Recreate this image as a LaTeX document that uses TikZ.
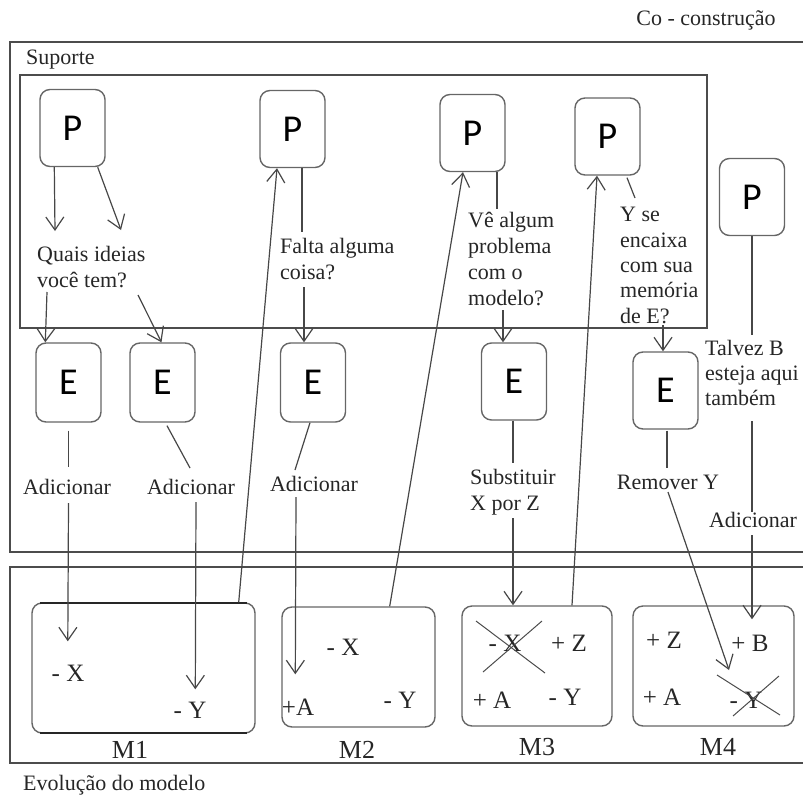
\documentclass[tikz,border=0pt]{standalone}
\usepackage{fontspec}
\setmainfont{Liberation Serif}
\newfontfamily\boxfont{Carlito}
\usetikzlibrary{arrows.meta,calc}

\begin{document}
\begin{tikzpicture}[x=1pt,y=-1pt,
  conn/.style={draw=black!72, line width=1.2pt},
  arr/.style={conn, -{Straight Barb[length=13pt,width=18pt,line width=1.2pt]}},
  cross/.style={draw=black!70, line width=1pt},
  frame/.style={draw=black!70, line width=1.6pt},
  agent/.style={draw=black!60, line width=1.4pt, rounded corners=10pt,
    minimum width=65pt, minimum height=77pt, inner sep=0pt,
    font=\boxfont\fontsize{38}{40}\selectfont},
  model/.style={draw=black!60, line width=1.4pt, rounded corners=10pt, inner sep=0pt},
  txt/.style={font=\fontsize{22}{26}\selectfont, inner sep=0pt, align=left, text=black!85},
  mtxt/.style={font=\fontsize{25}{28}\selectfont, inner sep=0pt, text=black!85},
  mlabel/.style={font=\fontsize{26}{28}\selectfont, inner sep=0pt, text=black!85}]

\path[use as bounding box] (0,0) rectangle (803,798);

% --- frames ---
\draw[frame] (803,42) -- (10,42) -- (10,552) -- (803,552);
\draw[frame] (20,75) rectangle (707,328);
\draw[frame] (803,567) -- (10,567) -- (10,763) -- (803,763);
\node[txt, anchor=center] (cocon) at (706,20) {Co - construção};
\node[txt, anchor=west] (sup) at (26,60) {Suporte};
\node[txt, anchor=west] (evo) at (23,785) {Evolução do modelo};

% --- P and E boxes ---
\node[agent] (P1) at (72.5,128) {P};
\node[agent] (P2) at (292.5,129) {P};
\node[agent] (P3) at (472.5,133) {P};
\node[agent] (P4) at (607.5,136.5) {P};
\node[agent] (P5) at (752,197) {P};

\node[agent, minimum height=79pt] (E1) at (68.5,382.5) {E};
\node[agent, minimum height=79pt] (E2) at (162.5,382.5) {E};
\node[agent, minimum height=79pt] (E3) at (313,382.5) {E};
\node[agent] (E4) at (514,381.5) {E};
\node[agent] (E5) at (665.5,390.5) {E};

% --- model boxes ---
\node[model, minimum width=223pt, minimum height=130pt] (M1) at (143.5,668) {};
\draw[draw=black!85, line width=2.4pt] (40,603) -- (247,603) (40,733) -- (247,733);
\node[model, minimum width=153pt, minimum height=120pt] (M2) at (358.5,667) {};
\node[model, minimum width=150pt, minimum height=120pt] (M3) at (537,666) {};
\node[model, minimum width=161pt, minimum height=120pt] (M4) at (713.5,666) {};

\node[mlabel] (L1) at (130,750) {M1};
\node[mlabel] (L2) at (357,750) {M2};
\node[mlabel] (L3) at (537,747) {M3};
\node[mlabel] (L4) at (718,747) {M4};

% --- model contents ---
\node[mtxt] (m1x) at (68,673) {- X};
\node[mtxt] (m1y) at (190,710) {- Y};
\node[mtxt] (m2x) at (343,647) {- X};
\node[mtxt] (m2a) at (298,707) {+A};
\node[mtxt] (m2y) at (400,700) {- Y};
\node[mtxt] (m3x) at (505,643) {- X};
\node[mtxt] (m3z) at (569,643) {+ Z};
\node[mtxt] (m3a) at (492,700) {+ A};
\node[mtxt] (m3y) at (565,697) {- Y};
\node[mtxt] (m4z) at (664,640) {+ Z};
\node[mtxt] (m4b) at (750,643) {+ B};
\node[mtxt] (m4a) at (662,697) {+ A};
\node[mtxt] (m4y) at (746,700) {- Y};

\draw[cross] ($(m3x)+(-29,-22)$) -- ($(m3x)+(40,30)$);
\draw[cross] ($(m3x)+(-22,29)$) -- ($(m3x)+(37,-22)$);
\draw[cross] ($(m4y)+(-29,-25)$) -- ($(m4y)+(34,15)$);
\draw[cross] ($(m4y)+(-13,16)$) -- ($(m4y)+(33,-24)$);

% --- questions and actions (anchored at the baseline of their last line) ---
\node[txt, anchor=base west] (q1) at (37,287) {Quais ideias\\você tem?};
\node[txt, anchor=base west] (q2) at (280,279) {Falta alguma\\coisa?};
\node[txt, anchor=base west] (q3) at (468,305) {Vê algum\\problema\\com o\\modelo?};
\node[txt, anchor=base west, font=\fontsize{22}{25.3}\selectfont] (q4) at (620,323) {Y se\\encaixa\\com sua\\memória\\de E?};
\node[txt, anchor=base west, font=\fontsize{22}{25}\selectfont] (q5) at (705,405) {Talvez B\\esteja aqui\\também};

\node[txt] (a1) at (67,487) {Adicionar};
\node[txt] (a2) at (191,487) {Adicionar};
\node[txt] (a3) at (314,484) {Adicionar};
\node[txt, anchor=base west] (a4) at (470,510) {Substituir\\X por Z};
\node[txt] (a5) at (668,482) {Remover Y};
\node[txt] (a6) at (753,520) {Adicionar};

% --- free ends of connectors beside the texts ---
\coordinate (q1in1) at (55,231);
\coordinate (q1in2) at (121,230);
\coordinate (q1out1) at (47,292);
\coordinate (q1out2) at (138,295);
\coordinate (a1in) at (68.5,467);
\coordinate (a1out) at (68.5,503);
\coordinate (a2in) at (190,468);
\coordinate (a2out) at (196,502);
\coordinate (q2in) at (302,232);
\coordinate (q2out) at (304,287);
\coordinate (a3in) at (295,470);
\coordinate (a3out) at (296,497);
\coordinate (q3in) at (497,209);
\coordinate (q3out) at (503,310);
\coordinate (a4in) at (513,463);
\coordinate (a4out) at (513,518);
\coordinate (q4in) at (635,198);
\coordinate (q4out) at (663,325);
\coordinate (a5in) at (667,468);
\coordinate (a5out) at (668,492);
\coordinate (q5in) at (752,335);
\coordinate (q5out) at (752,421);
\coordinate (a6in) at (752,512);
\coordinate (a6out) at (752,535);

% --- connectors ---
\draw[arr] ($(P1.south west)+(15,0)$) -- (q1in1);
\draw[arr] ($(P1.south east)+(-8,0)$) -- (q1in2);
\draw[arr] (q1out1) -- ($(E1.north west)+(10,0)$);
\draw[arr] (q1out2) -- ($(E2.north)+(-1,0)$);

\draw[conn] ($(E1.south)+(0,8)$) -- (a1in);
\draw[arr] (a1out) -- ($(M1.north west)+(36.5,39)$);
\draw[conn] ($(E2.south)+(4.5,3)$) -- (a2in);
\draw[arr] (a2out) -- ($(M1.north west)+(164,87)$);

\draw[arr] ($(M1.north east)+(-17,0)$) -- ($(P2.south)+(-15.5,0)$);
\draw[conn] ($(P2.south)+(9.5,0)$) -- (q2in);
\draw[arr] (q2out) -- ($(E3.north)+(-9,0)$);
\draw[conn] ($(E3.south)+(-3,0)$) -- (a3in);
\draw[arr] (a3out) -- ($(M2.north west)+(14,68)$);

\draw[arr] ($(M2.north east)+(-46,0)$) -- ($(P3.south)+(-9.5,0)$);
\draw[conn] ($(P3.south)+(24.5,0)$) -- (q3in);
\draw[arr] (q3out) -- ($(E4.north)+(-11,0)$);
\draw[conn] ($(E4.south)+(-1,0)$) -- (a4in);
\draw[arr] (a4out) -- ($(M3.north)+(-24,0)$);

\draw[arr] ($(M3.north)+(35,0)$) -- ($(P4.south)+(-10.5,0)$);
\draw[conn] ($(P4.south)+(19.5,2)$) -- (q4in);
\draw[arr] (q4out) -- ($(E5.north)+(-2.5,0)$);
\draw[conn] ($(E5.south)+(1.5,1)$) -- (a5in);
\draw[arr] (a5out) -- ($(m4y)+(-17,-30)$);

\draw[conn] (P5.south) -- (q5in);
\draw[conn] (q5out) -- (a6in);
\draw[arr] (a6out) -- ($(M4.north)+(38.5,14)$);

\end{tikzpicture}
\end{document}
